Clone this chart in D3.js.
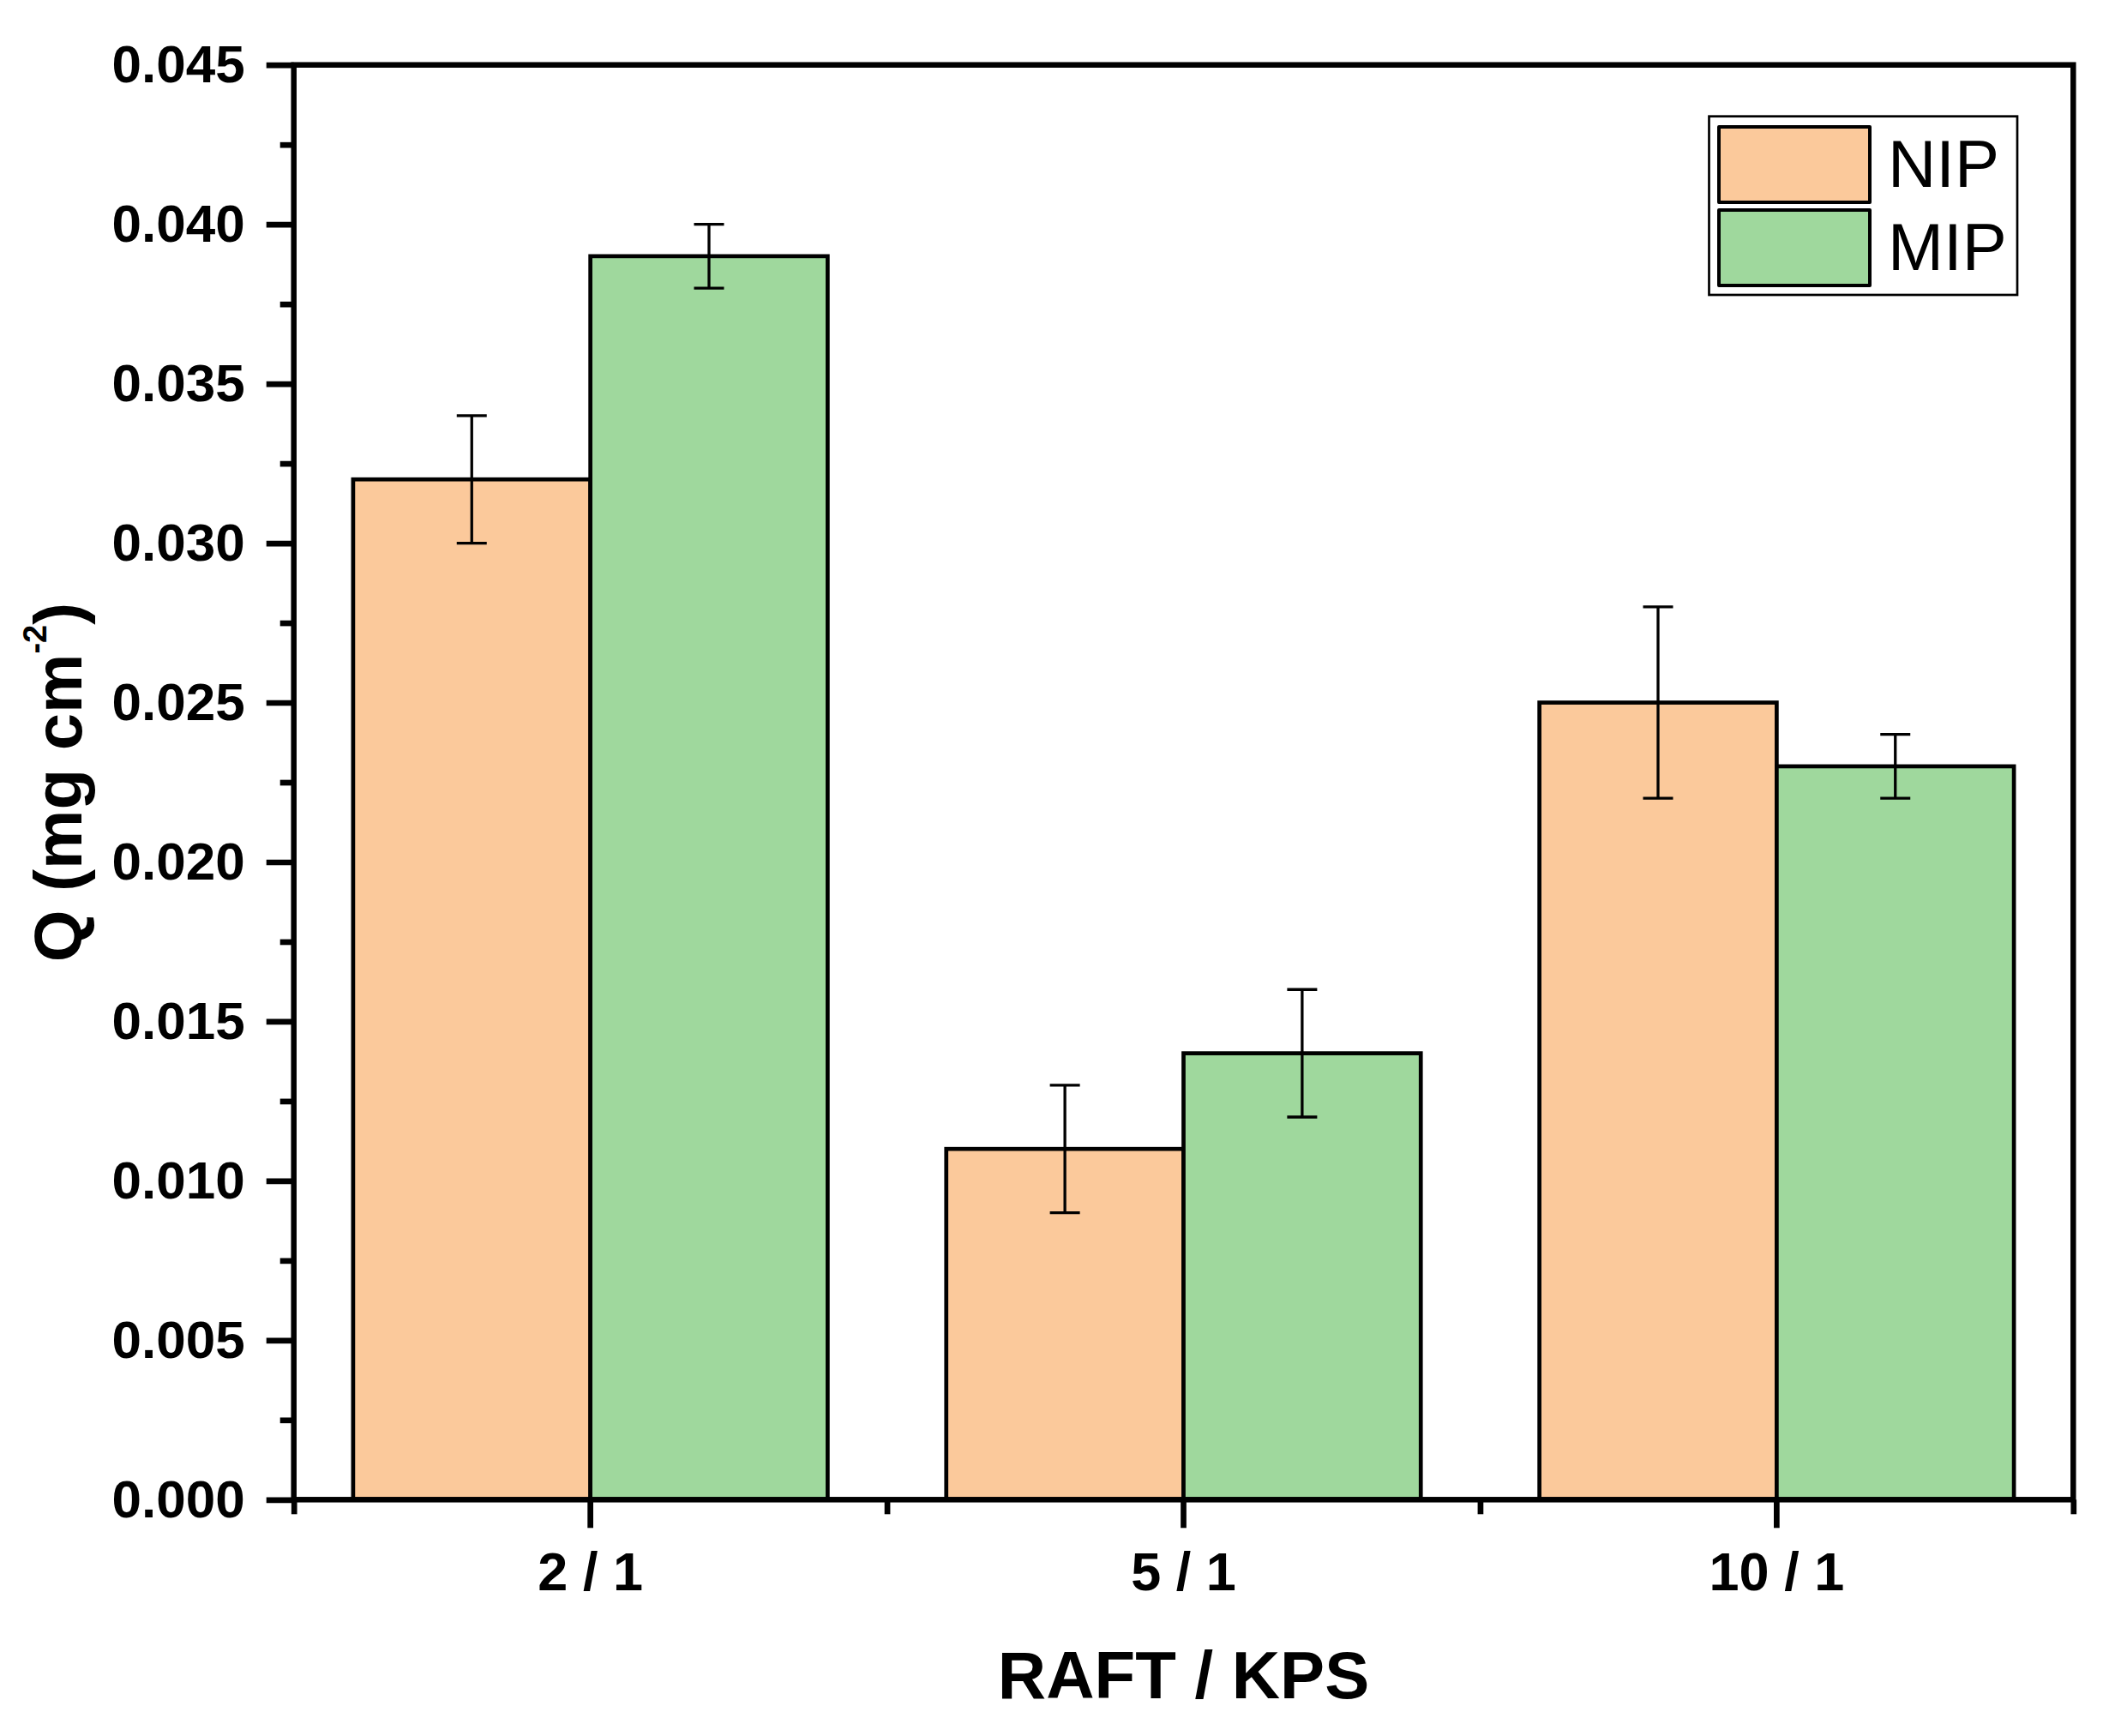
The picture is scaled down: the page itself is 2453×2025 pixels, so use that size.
<!DOCTYPE html>
<html>
<head>
<meta charset="utf-8">
<script src="https://cdn.jsdelivr.net/npm/d3@7"></script>
<style>
  body { margin: 0; background: #fff; }
  svg { display: block; }
  text { font-family: 'Liberation Sans', Arial, sans-serif; }
</style>
</head>
<body>
<svg></svg>
<script>
let categories = ['2 / 1', '5 / 1', '10 / 1']
let seriesNames = ['NIP', 'MIP']
let nipValues = [0.032, 0.011, 0.025]
let nipErrors = [0.002, 0.002, 0.003]
let mipValues = [0.039, 0.014, 0.023]
let mipErrors = [0.001, 0.002, 0.001]
let yTicks = [0, 0.005, 0.010, 0.015, 0.020, 0.025, 0.030, 0.035, 0.040, 0.045]
let yMinorTicks = [0.0025, 0.0075, 0.0125, 0.0175, 0.0225, 0.0275, 0.0325, 0.0375, 0.0425]
let colors = ['#fbc99b', '#9fd89d']

let width = 2453
let height = 2025
let plotLeft = 342.7
let plotRight = 2418.3
let plotTop = 75.7
let plotBottom = 1749.3

let svg = d3.select('svg')
    .attr('width', width)
    .attr('height', height)

let xScale = d3.scaleBand()
    .domain(categories)
    .range([plotLeft, plotRight])
    .paddingInner(0.2)
    .paddingOuter(0.1)

let innerScale = d3.scaleBand()
    .domain(seriesNames)
    .range([0, xScale.bandwidth()])

// band edges for the short ticks
let edgeScale = d3.scaleLinear()
    .domain([0, categories.length])
    .range([plotLeft, plotRight])

let yScale = d3.scaleLinear()
    .domain([0, 0.045])
    .range([plotBottom, plotTop])

let rows = []
categories.forEach((c, i) => {
    rows.push({cat: c, series: 'NIP', value: nipValues[i], err: nipErrors[i], color: colors[0]})
    rows.push({cat: c, series: 'MIP', value: mipValues[i], err: mipErrors[i], color: colors[1]})
})

// bars
svg.selectAll('rect.bar')
   .data(rows)
   .enter()
   .append('rect')
   .attr('class', 'bar')
   .attr('x', d => xScale(d.cat) + innerScale(d.series))
   .attr('y', d => yScale(d.value))
   .attr('width', innerScale.bandwidth())
   .attr('height', d => yScale(0) - yScale(d.value))
   .attr('fill', d => d.color)
   .attr('stroke', '#000')
   .attr('stroke-width', 4.7)

// error bars
let errG = svg.append('g')
    .attr('stroke', '#000')
    .attr('stroke-width', 3.3)

let cx = d => xScale(d.cat) + innerScale(d.series) + innerScale.bandwidth() / 2
let capHalf = 17.5

errG.selectAll('line.stem')
    .data(rows)
    .enter()
    .append('line')
    .attr('x1', cx)
    .attr('x2', cx)
    .attr('y1', d => yScale(d.value - d.err))
    .attr('y2', d => yScale(d.value + d.err))

errG.selectAll('line.capTop')
    .data(rows)
    .enter()
    .append('line')
    .attr('x1', d => cx(d) - capHalf)
    .attr('x2', d => cx(d) + capHalf)
    .attr('y1', d => yScale(d.value + d.err))
    .attr('y2', d => yScale(d.value + d.err))

errG.selectAll('line.capBot')
    .data(rows)
    .enter()
    .append('line')
    .attr('x1', d => cx(d) - capHalf)
    .attr('x2', d => cx(d) + capHalf)
    .attr('y1', d => yScale(d.value - d.err))
    .attr('y2', d => yScale(d.value - d.err))

// frame
svg.append('rect')
   .attr('x', plotLeft)
   .attr('y', plotTop)
   .attr('width', plotRight - plotLeft)
   .attr('height', plotBottom - plotTop)
   .attr('fill', 'none')
   .attr('stroke', '#000')
   .attr('stroke-width', 6.5)

let styleAxis = (g) => {
    g.select('.domain').remove()
    g.selectAll('.tick line').attr('stroke', '#000').attr('stroke-width', 6.7)
    g.selectAll('.tick text')
     .attr('fill', '#000')
     .style('font-family', "'Liberation Sans', Arial, sans-serif")
     .style('font-weight', 'bold')
     .style('font-size', '62px')
}

// y axis
let yAxis = d3.axisLeft(yScale)
    .tickValues(yTicks)
    .tickFormat(d3.format('.3f'))
    .tickSize(32)
    .tickPadding(25)

svg.append('g')
   .attr('transform', 'translate(' + plotLeft + ', 0)')
   .call(yAxis)
   .call(styleAxis)

let yMinor = d3.axisLeft(yScale)
    .tickValues(yMinorTicks)
    .tickFormat('')
    .tickSize(16)

svg.append('g')
   .attr('transform', 'translate(' + plotLeft + ', 0)')
   .call(yMinor)
   .call(styleAxis)

// x axis
let xAxis = d3.axisBottom(xScale)
    .tickSize(33)
    .tickPadding(28)

svg.append('g')
   .attr('transform', 'translate(0, ' + plotBottom + ')')
   .call(xAxis)
   .call(styleAxis)
   .selectAll('.tick text')
   .style('font-size', '63px')

let xMinor = d3.axisBottom(edgeScale)
    .tickValues(d3.range(categories.length + 1))
    .tickFormat('')
    .tickSize(17)

svg.append('g')
   .attr('transform', 'translate(0, ' + plotBottom + ')')
   .call(xMinor)
   .call(styleAxis)

// axis titles
svg.append('text')
   .attr('x', (plotLeft + plotRight) / 2)
   .attr('y', 1981)
   .attr('text-anchor', 'middle')
   .style('font-size', '78px')
   .style('font-weight', 'bold')
   .text('RAFT / KPS')

let yTitle = svg.append('text')
    .attr('transform', 'translate(95, ' + ((plotTop + plotBottom) / 2) + ') rotate(-90)')
    .attr('text-anchor', 'middle')
    .style('font-size', '78px')
    .style('font-weight', 'bold')

yTitle.append('tspan').text('Q (mg cm')
yTitle.append('tspan').attr('dy', -41).style('font-size', '38px').text('-2')
yTitle.append('tspan').attr('dy', 41).text(')')

// legend
let legend = svg.append('g')

legend.append('rect')
      .attr('x', 1993.5)
      .attr('y', 135.7)
      .attr('width', 359.5)
      .attr('height', 208.3)
      .attr('fill', '#fff')
      .attr('stroke', '#000')
      .attr('stroke-width', 2.7)

let legendY = d3.scalePoint()
    .domain(seriesNames)
    .range([192, 289])

legend.selectAll('rect.swatch')
      .data(seriesNames)
      .enter()
      .append('rect')
      .attr('class', 'swatch')
      .attr('x', 2005)
      .attr('y', d => legendY(d) - 44)
      .attr('width', 176)
      .attr('height', 88)
      .attr('fill', (d, i) => colors[i])
      .attr('stroke', '#000')
      .attr('stroke-width', 4)
      .attr('stroke-linejoin', 'round')

legend.selectAll('text.label')
      .data(seriesNames)
      .enter()
      .append('text')
      .attr('class', 'label')
      .attr('x', 2202)
      .attr('y', d => legendY(d) + 26)
      .style('font-size', '78px')
      .text(d => d)
</script>
</body>
</html>
